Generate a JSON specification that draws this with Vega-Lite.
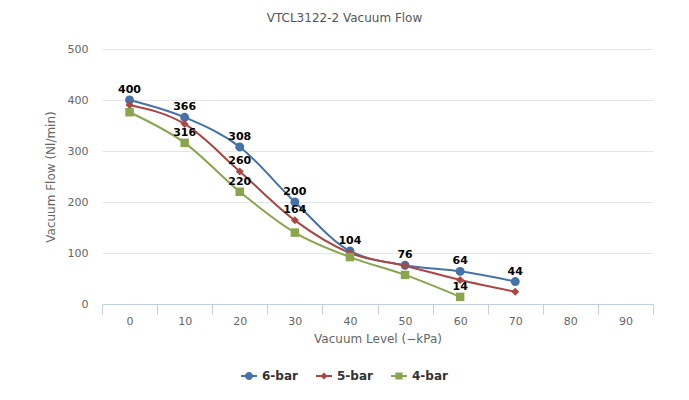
{
  "$schema": "https://vega.github.io/schema/vega-lite/v6.json",
  "autosize": "none",
  "width": 551,
  "height": 255,
  "padding": {"left": 102, "top": 49, "right": 36, "bottom": 96},
  "background": "white",
  "title": {"text": "VTCL3122-2 Vacuum Flow", "fontSize": 12, "font": "DejaVu Sans", "fontWeight": "normal", "color": "#555555", "anchor": "middle", "frame": "group", "dx": -33, "offset": 18},
  "config": {
    "view": {"stroke": null},
    "font": "DejaVu Sans"
  },
  "data": {"values": [
    {"x": 0, "series": "6-bar", "y": 400, "label": "400"},
    {"x": 10, "series": "6-bar", "y": 366, "label": "366"},
    {"x": 20, "series": "6-bar", "y": 308, "label": "308"},
    {"x": 30, "series": "6-bar", "y": 200, "label": "200"},
    {"x": 40, "series": "6-bar", "y": 104, "label": "104"},
    {"x": 50, "series": "6-bar", "y": 76, "label": "76"},
    {"x": 60, "series": "6-bar", "y": 64, "label": "64"},
    {"x": 70, "series": "6-bar", "y": 44, "label": "44"},
    {"x": 0, "series": "5-bar", "y": 390, "label": null},
    {"x": 10, "series": "5-bar", "y": 353, "label": null},
    {"x": 20, "series": "5-bar", "y": 260, "label": "260"},
    {"x": 30, "series": "5-bar", "y": 164, "label": "164"},
    {"x": 40, "series": "5-bar", "y": 100, "label": null},
    {"x": 50, "series": "5-bar", "y": 75, "label": null},
    {"x": 60, "series": "5-bar", "y": 47, "label": null},
    {"x": 70, "series": "5-bar", "y": 24, "label": null},
    {"x": 0, "series": "4-bar", "y": 376, "label": null},
    {"x": 10, "series": "4-bar", "y": 316, "label": "316"},
    {"x": 20, "series": "4-bar", "y": 220, "label": "220"},
    {"x": 30, "series": "4-bar", "y": 140, "label": null},
    {"x": 40, "series": "4-bar", "y": 92, "label": null},
    {"x": 50, "series": "4-bar", "y": 57, "label": null},
    {"x": 60, "series": "4-bar", "y": 14, "label": "14"}
  ]},
  "encoding": {
    "x": {
      "field": "x", "type": "ordinal",
      "scale": {"type": "band", "domain": [0, 10, 20, 30, 40, 50, 60, 70, 80, 90], "paddingInner": 0, "paddingOuter": 0},
      "axis": {
        "title": "Vacuum Level (−kPa)", "titleFont": "DejaVu Sans", "titleFontSize": 12, "titleFontWeight": "normal", "titleColor": "#666666", "titlePadding": 7,
        "labelAngle": 0, "labelFontSize": 11, "labelColor": "#666666", "labelPadding": 1,
        "tickBand": "extent", "tickSize": 10, "tickColor": "#C0D0E0", "domainColor": "#C0D0E0", "grid": false
      }
    },
    "y": {
      "field": "y", "type": "quantitative",
      "scale": {"domain": [0, 500], "nice": false},
      "axis": {
        "title": "Vacuum Flow (Nl/min)", "titleFont": "DejaVu Sans", "titleFontSize": 12, "titleFontWeight": "normal", "titleColor": "#666666", "titlePadding": 10,
        "values": [0, 100, 200, 300, 400, 500], "labelFontSize": 11, "labelColor": "#666666", "labelPadding": 14,
        "ticks": false, "domain": false, "gridColor": "#e6e6e6", "grid": true
      }
    }
  },
  "layer": [
    {
      "mark": {"type": "line", "interpolate": "monotone", "strokeWidth": 2},
      "encoding": {
        "color": {"field": "series", "type": "nominal",
          "scale": {"domain": ["6-bar", "5-bar", "4-bar"], "range": ["#4572A7", "#AA4643", "#89A54E"]}}
      }
    },
    {
      "transform": [{"filter": "false"}],
      "mark": {"type": "point", "filled": true, "opacity": 1},
      "encoding": {
        "color": {"field": "series", "type": "nominal",
          "legend": {"title": null, "orient": "none", "direction": "horizontal", "legendX": 139, "legendY": 319,
            "labelFontSize": 12, "labelFontWeight": "bold", "labelColor": "#333333", "labelFont": "DejaVu Sans",
            "symbolSize": 256, "symbolStrokeWidth": 0, "labelOffset": 5, "columnPadding": 18}},
        "shape": {"field": "series", "type": "nominal",
          "scale": {"domain": ["6-bar", "5-bar", "4-bar"], "range": [
            "M-1,-0.12H1V0.12H-1Z M0.5,0A0.5,0.5 0 1,1 -0.5,0A0.5,0.5 0 1,1 0.5,0Z",
            "M-1,-0.12H1V0.12H-1Z M0,-0.45L0.45,0L0,0.45L-0.45,0Z",
            "M-1,-0.12H1V0.12H-1Z M-0.45,-0.45H0.45V0.45H-0.45Z"
          ]}}
      }
    },
    {
      "transform": [{"filter": "datum.series === '6-bar'"}],
      "mark": {"type": "point", "shape": "circle", "filled": true, "opacity": 1, "size": 80, "color": "#4572A7"}
    },
    {
      "transform": [{"filter": "datum.series === '5-bar'"}],
      "mark": {"type": "point", "shape": "diamond", "filled": true, "opacity": 1, "size": 64, "color": "#AA4643"}
    },
    {
      "transform": [{"filter": "datum.series === '4-bar'"}],
      "mark": {"type": "point", "shape": "square", "filled": true, "opacity": 1, "size": 72, "color": "#89A54E"}
    },
    {
      "transform": [{"filter": "datum.label != null"}],
      "mark": {"type": "text", "fontSize": 11, "fontWeight": "bold", "color": "#000000", "baseline": "bottom", "dy": -5, "font": "DejaVu Sans"},
      "encoding": {"text": {"field": "label"}}
    }
  ]
}
